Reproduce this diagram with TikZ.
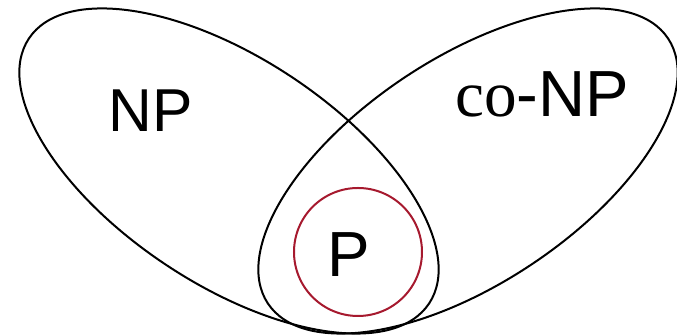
\documentclass[tikz,border=0pt]{standalone}
\usepackage{fontspec}
\setmainfont{Liberation Sans}
\newfontfamily\timesfont{Liberation Serif}
\usetikzlibrary{positioning}
\definecolor{classred}{HTML}{A6192E}

\begin{document}
\begin{tikzpicture}[x=0.5pt,y=0.5pt,line width=1pt]
        \useasboundingbox (0,0) rectangle (677,336);
        \draw[rotate around={-33.5:(229,165)}] (229,165) ellipse [x radius=240,y radius=113];
        \draw[rotate around={33.5:(468,165)}] (468,165) ellipse [x radius=240,y radius=113];
        \draw[classred] (358,84) circle [radius=64];
        \node[anchor=base,inner sep=0pt,font=\fontsize{30.3}{34}\selectfont] (np) at (151,204) {NP};
        \node[anchor=base,inner sep=0pt,font=\fontsize{32.6}{36}\selectfont] (conp) at (542,219) {{\timesfont co}-NP};
        \node[anchor=base,inner sep=0pt,font=\fontsize{31.9}{36}\selectfont] (p) at (349,59) {P};
      \end{tikzpicture}
\end{document}
